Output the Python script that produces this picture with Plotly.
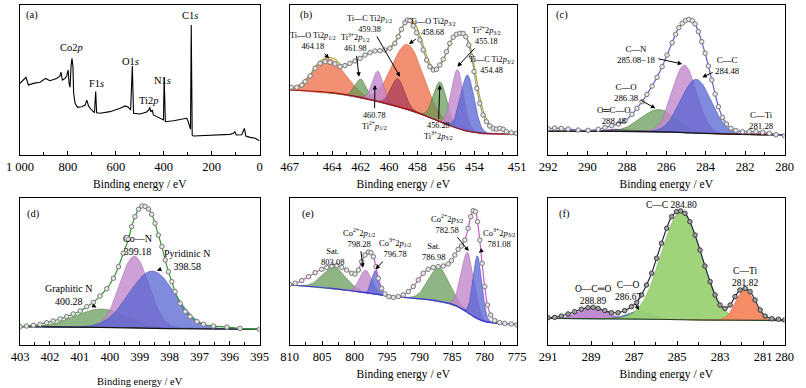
import numpy as np
import plotly.graph_objects as go

SERIF = "Liberation Serif, Times New Roman, serif"

# ======================= DATA =======================
# (a) survey spectrum: binding energy (eV) / intensity (% of panel height)
a_be = [1000, 975, 965, 944, 916, 893, 875, 847, 833, 829, 823, 812, 805, 799, 795, 791, 787, 783, 779, 776,
        770, 760, 742, 728, 721, 714, 701, 689, 684, 680, 666, 624, 582, 561, 547, 538, 531, 526, 499, 471,
        461, 458, 454, 448, 443, 415, 401, 398, 393, 359, 318, 304, 299, 292, 288, 285, 281, 276, 178, 123,
        109, 103, 97, 74, 63, 57, 39, 18, 0]
a_int = [47.6, 51.6, 46.5, 47.6, 48.3, 50.9, 49.4, 50.9, 52.5, 55.1, 49.8, 50.9, 52.5, 56.5, 47.6, 45.0, 58.7, 64.2, 58.7, 41.0,
         34.3, 31.7, 32.1, 33.2, 36.5, 32.6, 29.9, 28.1, 42.1, 28.1, 27.7, 28.8, 31.0, 32.6, 31.7, 29.9, 59.1, 27.7, 27.2, 28.6,
         30.3, 31.7, 28.6, 29.9, 26.6, 24.4, 23.3, 51.6, 22.1, 22.8, 23.7, 24.4, 22.8, 18.8, 17.1, 86.4, 13.3, 12.6, 13.1, 13.7,
         14.4, 15.5, 13.3, 13.5, 17.7, 12.6, 11.7, 11.1, 9.5]
a_ticks = [1000, 800, 600, 400, 200, 0]
a_ticktext = ["1 000", "800", "600", "400", "200", "0"]

# (b) Ti 2p
b_data_be = [466.88, 466.49, 466.13, 465.90, 465.55, 465.20, 464.85, 464.50, 464.15, 463.80, 463.45, 463.10, 462.75,
             462.39, 462.04, 461.69, 461.34, 460.99, 460.64, 460.29, 459.94, 459.59, 459.35, 459.12, 458.88, 458.70,
             458.53, 458.30, 458.06, 457.83, 457.60, 457.36, 457.13, 456.89, 456.66, 456.43, 456.19, 455.96, 455.73,
             455.49, 455.26, 455.02, 454.79, 454.60, 454.39, 454.20, 454.02, 453.83, 453.62, 453.39, 453.15, 452.92,
             452.68, 452.45, 452.22, 451.98, 451.75, 451.40, 451.05]
b_data_int = [45.0, 45.0, 46.5, 48.7, 52.5, 57.6, 60.9, 62.0, 61.6, 60.5, 58.7, 59.4, 60.9,
              62.5, 64.2, 66.4, 68.0, 69.1, 69.3, 69.8, 70.9, 74.2, 78.6, 83.5, 87.9, 89.7,
              89.3, 85.8, 81.3, 76.4, 69.8, 63.1, 58.7, 56.5, 56.9, 59.8, 63.6, 68.7, 74.2,
              78.2, 80.2, 80.8, 80.8, 78.6, 73.1, 65.3, 55.4, 44.3, 34.3, 26.6, 22.1, 19.3,
              17.7, 17.1, 17.7, 17.1, 15.5, 14.8, 14.4]
b_fit_be = [467.0, 466.37, 465.67, 465.2, 464.73, 464.26, 463.8, 463.33, 462.86, 462.16, 461.46, 460.75, 460.05,
            459.58, 459.12, 458.77, 458.53, 458.18, 457.83, 457.48, 457.13, 456.78, 456.43, 455.96, 455.49, 455.02,
            454.67, 454.32, 453.97, 453.62, 453.27, 452.8, 451.87, 451.0]
b_fit_int = [44.7, 45.8, 51.6, 58.7, 63.1, 64.9, 63.6, 59.8, 60.2, 63.6, 67.6, 69.3, 70.9,
             75.3, 84.2, 89.7, 90.4, 87.1, 79.7, 69.8, 60.9, 57.6, 59.1, 67.6, 78.0, 81.3,
             80.4, 73.1, 57.6, 38.8, 26.6, 19.3, 16.2, 14.4]
b_bg_be = [467.0, 464.03, 461.69, 459.35, 458.18, 457.01, 455.84, 454.67, 453.50, 452.33, 451.0]
b_bg_int = [43.2, 41.4, 37.7, 32.1, 28.8, 24.4, 19.9, 16.2, 14.4, 14.0, 13.7]
b_peak_center = [464.18, 458.68, 461.98, 456.40, 460.78, 455.18, 459.38, 454.48]
b_peak_height = [22.1, 43.2, 12.3, 26.5, 20.2, 39.0, 18.5, 37.2]
b_peak_fwhm = [2.7, 2.6, 0.95, 1.1, 0.9, 1.0, 1.1, 1.1]
b_ticks = [467, 464, 462, 460, 458, 456, 454, 451]

# (c) C 1s
c_data_be = [292.0, 291.66, 291.32, 290.98, 290.47, 289.96, 289.45, 289.11, 288.77, 288.43, 288.09, 287.74, 287.49,
             287.23, 286.98, 286.72, 286.47, 286.21, 285.96, 285.70, 285.53, 285.36, 285.19, 285.02, 284.85, 284.68,
             284.54, 284.37, 284.20, 284.03, 283.86, 283.69, 283.52, 283.35, 283.15, 282.94, 282.72, 282.47, 282.13,
             281.79, 281.45, 281.11, 280.77, 280.43, 280.0]
c_data_int = [17.5, 17.9, 17.7, 17.3, 16.6, 16.4, 17.1, 18.2, 19.5, 20.6, 22.8, 27.0, 31.0,
              35.4, 40.3, 45.8, 51.6, 58.7, 66.4, 74.6, 80.2, 84.6, 87.5, 89.3, 90.1, 89.3,
              87.1, 82.0, 75.3, 67.6, 59.1, 49.8, 40.5, 32.1, 25.0, 20.6, 17.7, 16.2, 15.5,
              15.5, 15.5, 15.1, 14.4, 13.5, 12.8]
c_bg_be = [292.0, 287.57, 285.87, 284.51, 283.15, 281.62, 280.0]
c_bg_int = [15.9, 15.7, 15.3, 14.6, 14.0, 13.5, 13.3]
c_peak_center = [288.48, 286.38, 285.08, 284.48, 281.28]
c_peak_height = [1.4, 14.8, 44.8, 35.7, 1.1]
c_peak_fwhm = [1.4, 2.1, 1.45, 1.8, 0.9]
c_ticks = [292, 290, 288, 286, 284, 282, 280]

# (d) N 1s
d_data_be = [403.0, 402.78, 402.55, 402.33, 402.11, 401.89, 401.66, 401.44, 401.22, 400.99, 400.77, 400.55, 400.33,
             400.10, 399.88, 399.71, 399.55, 399.38, 399.27, 399.16, 399.04, 398.93, 398.82, 398.71, 398.60, 398.49,
             398.38, 398.26, 398.15, 398.04, 397.93, 397.82, 397.65, 397.48, 397.32, 397.09, 396.87, 396.54, 396.09,
             395.65, 395.0]
d_data_int = [12.5, 12.9, 13.4, 14.1, 15.2, 16.3, 17.7, 19.3, 21.1, 23.1, 26.1, 29.0, 33.3,
              38.3, 45.4, 53.3, 62.4, 71.9, 80.5, 87.3, 92.3, 94.6, 94.3, 92.5, 88.9, 82.8,
              74.8, 66.9, 57.8, 49.9, 43.1, 36.3, 28.3, 22.7, 19.3, 15.9, 14.1, 12.9, 12.2,
              11.3, 10.7]
d_bg_be = [403.0, 400.33, 399.21, 398.10, 395.0]
d_bg_int = [12.5, 12.0, 11.6, 11.1, 10.7]
d_peak_center = [400.28, 399.18, 398.58]
d_peak_height = [12.5, 48.8, 39.0]
d_peak_fwhm = [2.0, 1.15, 1.8]
d_ticks = [403, 402, 401, 400, 399, 398, 397, 396, 395]

# (e) Co 2p
e_data_be = [810.0, 809.13, 808.11, 807.08, 806.06, 805.04, 804.27, 803.50, 802.73, 801.97, 801.20, 800.43, 799.92,
             799.41, 798.90, 798.38, 797.87, 797.46, 797.10, 796.69, 796.34, 795.82, 795.31, 794.70, 794.03, 793.27,
             792.50, 791.73, 790.96, 790.19, 789.43, 788.66, 787.89, 787.12, 786.36, 785.59, 785.08, 784.57, 784.05,
             783.54, 783.03, 782.52, 782.11, 781.75, 781.39, 781.08, 780.73, 780.37, 779.96, 779.55, 779.04, 778.43,
             777.66, 776.89, 775.87, 775.0]
e_data_int = [41.3, 42.0, 43.8, 46.5, 49.2, 51.5, 52.8, 53.7, 54.0, 52.8, 51.0, 48.8, 48.3,
              51.0, 56.7, 61.2, 63.3, 62.8, 60.1, 53.3, 45.4, 38.5, 34.7, 32.9, 32.4, 32.9,
              34.0, 36.3, 39.7, 44.2, 48.8, 51.5, 52.8, 53.3, 53.7, 55.1, 57.4, 61.2, 65.1,
              67.3, 71.4, 79.4, 87.3, 91.4, 90.7, 83.9, 71.4, 55.6, 39.7, 27.2, 20.4, 16.6,
              15.2, 14.7, 14.3, 13.6]
e_bg_be = [810.0, 803.5, 798.38, 794.8, 790.71, 787.12, 784.57, 783.03, 781.49, 779.96, 777.91, 775.0]
e_bg_int = [40.8, 38.5, 35.6, 33.3, 31.7, 29.9, 27.2, 23.4, 18.8, 15.9, 14.7, 14.1]
e_peak_center = [803.08, 786.98, 798.28, 782.58, 796.78, 781.08]
e_peak_height = [14.5, 22.9, 15.4, 40.9, 16.0, 42.7]
e_peak_fwhm = [4.2, 3.8, 2.2, 2.3, 1.3, 1.6]
e_ticks = [810, 805, 800, 795, 790, 785, 780, 775]

# (f) C 1s
f_data_be = [291.0, 290.69, 290.38, 290.07, 289.76, 289.45, 289.14, 288.90, 288.67, 288.36, 288.05, 287.74, 287.43,
             287.12, 286.88, 286.65, 286.42, 286.18, 285.95, 285.72, 285.48, 285.25, 285.02, 284.83, 284.63, 284.40,
             284.16, 283.93, 283.70, 283.46, 283.23, 283.0, 282.77, 282.53, 282.30, 282.07, 281.83, 281.60, 281.37,
             281.13, 280.90, 280.59, 280.28, 280.0]
f_data_int = [18.6, 18.8, 19.7, 21.1, 22.7, 24.3, 25.4, 25.6, 24.9, 23.4, 22.0, 22.0, 23.4,
              26.1, 28.8, 34.0, 40.8, 48.8, 59.0, 69.2, 79.4, 87.3, 90.7, 91.2, 89.6, 83.9,
              74.8, 64.6, 53.7, 43.1, 34.0, 27.2, 24.9, 27.2, 32.9, 37.4, 38.5, 36.3, 30.6,
              23.8, 19.7, 17.9, 17.5, 17.0]
f_bg_be = [291.0, 286.96, 283.85, 280.0]
f_bg_int = [18.1, 17.7, 17.0, 16.6]
f_peak_center = [288.89, 286.67, 284.80, 281.82]
f_peak_height = [7.6, 5.7, 73.4, 21.4]
f_peak_fwhm = [1.5, 1.4, 2.2, 1.0]
f_ticks = [291, 289, 287, 285, 283, 281, 280]

# ======================= STYLES =======================
W, H = 806, 388
PAL = {
    "orange": ("rgba(240,125,90,0.85)", "rgb(215,95,60)"),
    "green": ("rgba(95,150,80,0.70)", "rgb(80,130,70)"),
    "pink": ("rgba(195,135,205,0.80)", "rgb(170,110,185)"),
    "maroon": ("rgba(165,55,90,0.70)", "rgb(140,40,75)"),
    "blue": ("rgba(85,100,210,0.75)", "rgb(70,80,190)"),
    "violet": ("rgba(105,40,140,0.90)", "rgb(90,30,120)"),
    "red": ("rgba(235,60,40,0.90)", "rgb(210,40,30)"),
    "lgreen": ("rgba(155,210,115,0.95)", "rgb(120,180,90)"),
    "steel": ("rgba(80,115,175,0.85)", "rgb(60,95,155)"),
    "lilac": ("rgba(185,125,205,0.90)", "rgb(160,100,185)"),
    "forange": ("rgba(245,135,95,0.95)", "rgb(220,100,70)"),
}

panels = [
    dict(key="a", dom=((20, 259.5), (4.5, 155)), rng=(1000, 0), ticks=a_ticks, ticktext=a_ticktext,
         minor=np.arange(0, 1001, 100), stand=6),
    dict(key="b", dom=((289.5, 517), (4.5, 155)), rng=(467, 451), ticks=b_ticks, minor=np.arange(451, 468, 1),
         data=(b_data_be, b_data_int), fit=(b_fit_be, b_fit_int), bg=(b_bg_be, b_bg_int),
         peaks=(b_peak_center, b_peak_height, b_peak_fwhm),
         colors=["orange", "orange", "green", "green", "pink", "pink", "maroon", "blue"],
         bgcolor="rgb(160,20,20)", fitcolor="rgb(175,170,55)", mk="rgb(120,120,120)",
         mfill="rgb(230,230,230)", stand=6),
    dict(key="c", dom=((548, 784.5), (4.5, 155)), rng=(292, 280), ticks=c_ticks, minor=np.arange(280, 293, 1),
         data=(c_data_be, c_data_int), bg=(c_bg_be, c_bg_int),
         peaks=(c_peak_center, c_peak_height, c_peak_fwhm),
         colors=["violet", "green", "pink", "blue", "red"],
         bgcolor="rgb(20,20,20)", fitcolor="rgb(95,95,205)", mk="rgb(120,120,120)",
         mfill="rgb(230,230,230)", stand=6),
    dict(key="d", dom=((20, 259.5), (198, 345)), rng=(403, 395), ticks=d_ticks, minor=np.arange(395, 403.01, 0.5),
         data=(d_data_be, d_data_int), bg=(d_bg_be, d_bg_int),
         peaks=(d_peak_center, d_peak_height, d_peak_fwhm),
         colors=["green", "pink", "blue"],
         bgcolor="rgb(20,20,20)", fitcolor="rgb(50,150,50)", mk="rgb(120,120,120)",
         mfill="rgb(230,230,230)", stand=14),
    dict(key="e", dom=((289.5, 517), (198, 345)), rng=(810, 775), ticks=e_ticks, minor=np.arange(775, 811, 2.5),
         data=(e_data_be, e_data_int), bg=(e_bg_be, e_bg_int),
         peaks=(e_peak_center, e_peak_height, e_peak_fwhm),
         colors=["green", "green", "pink", "pink", "blue", "blue"],
         bgcolor="rgb(60,60,210)", fitcolor="rgb(205,90,205)", mk="rgb(120,120,120)",
         mfill="rgb(230,230,230)", stand=6),
    dict(key="f", dom=((548, 784.5), (198, 345)), rng=(291, 280), ticks=f_ticks, minor=np.arange(280, 292, 1),
         data=(f_data_be, f_data_int), bg=(f_bg_be, f_bg_int),
         peaks=(f_peak_center, f_peak_height, f_peak_fwhm),
         colors=["lilac", "steel", "lgreen", "forange"],
         bgcolor="rgb(40,70,40)", fitcolor="rgb(40,40,70)", mk="rgb(60,60,60)",
         mfill="rgb(160,160,160)", stand=6),
]

fig = go.Figure()
layout = dict(template="none", width=W, height=H, margin=dict(l=0, r=0, t=0, b=0, pad=0),
              paper_bgcolor="white", plot_bgcolor="white", showlegend=False,
              font=dict(family=SERIF, color="black"))
annotations = []


def interp_bg(x, bx, by):
    order = np.argsort(bx)
    return np.interp(x, np.asarray(bx)[order], np.asarray(by)[order])


for i, p in enumerate(panels):
    n = "" if i == 0 else str(i + 1)
    xa, ya = "x" + n, "y" + n
    (l, r), (t, b) = p["dom"]
    layout["xaxis" + n] = dict(
        domain=[l / W, r / W], range=list(p["rng"]), anchor=ya, automargin=False,
        showline=True, mirror=True, linecolor="black", linewidth=1,
        showgrid=False, zeroline=False,
        tickmode="array", tickvals=p["ticks"], ticktext=p.get("ticktext", [str(v) for v in p["ticks"]]),
        ticks="inside", ticklen=4, tickcolor="black", tickwidth=1,
        minor=dict(tickvals=list(p["minor"]), ticks="inside", ticklen=3, tickcolor="black", showgrid=False),
        tickfont=dict(family=SERIF, size=12.5, color="black"),
        title=dict(text="Binding energy / eV", font=dict(family=SERIF, size=11.5 if p["key"] != "d" else 10.5),
                   standoff=p["stand"]),
    )
    layout["yaxis" + n] = dict(
        domain=[1 - b / H, 1 - t / H], range=[0, 100], anchor=xa, automargin=False,
        showline=True, mirror=True, linecolor="black", linewidth=1,
        showgrid=False, zeroline=False, showticklabels=False, ticks="",
    )
    if p["key"] == "a":
        fig.add_trace(go.Scatter(x=a_be, y=a_int, mode="lines", line=dict(color="black", width=1.1),
                                 xaxis=xa, yaxis=ya, hoverinfo="skip"))
        continue
    lo, hi = min(p["rng"]), max(p["rng"])
    bx, by = p["bg"]
    cen, hgt, fw = p["peaks"]
    for c, h, w, col in zip(cen, hgt, fw, p["colors"]):
        xs = np.linspace(max(lo, c - 2.6 * w), min(hi, c + 2.6 * w), 240)
        base = interp_bg(xs, bx, by)
        top = base + h * np.exp(-4 * np.log(2) * ((xs - c) / w) ** 2)
        fill, edge = PAL[col]
        fig.add_trace(go.Scatter(x=np.concatenate([xs, xs[::-1]]), y=np.concatenate([top, base[::-1]]),
                                 mode="lines", fill="toself", fillcolor=fill, line=dict(color=edge, width=0.6),
                                 xaxis=xa, yaxis=ya, hoverinfo="skip"))
    fig.add_trace(go.Scatter(x=bx, y=by, mode="lines", line=dict(color=p["bgcolor"], width=1.2, shape="spline"),
                             xaxis=xa, yaxis=ya, hoverinfo="skip"))
    dx, dy = p["data"]
    if "fit" in p:
        fx, fy = p["fit"]
        fig.add_trace(go.Scatter(x=fx, y=fy, mode="lines", line=dict(color=p["fitcolor"], width=1.2, shape="spline"),
                                 xaxis=xa, yaxis=ya, hoverinfo="skip"))
        linecol = "rgb(150,150,150)"
    else:
        linecol = p["fitcolor"]
    fig.add_trace(go.Scatter(x=dx, y=dy, mode="lines+markers",
                             line=dict(color=linecol, width=1.2, shape="spline"),
                             marker=dict(symbol="circle", size=4.5, color=p["mfill"],
                                         line=dict(color=p["mk"], width=1)),
                             xaxis=xa, yaxis=ya, hoverinfo="skip"))


# ======================= LABELS =======================
def txt(n, x, y, s, size, head=None):
    ann = dict(xref="x" + n, yref="y" + n, text=s,
               font=dict(family=SERIF, size=size, color="black"), align="center")
    if head is None:
        ann.update(x=x, y=y, showarrow=False)
    else:
        ann.update(x=head[0], y=head[1], ax=x, ay=y, axref="x" + n, ayref="y" + n, showarrow=True,
                   arrowhead=2, arrowsize=0.9, arrowwidth=1, arrowcolor="black", standoff=0, startstandoff=1)
    annotations.append(ann)


P = "<i>p</i>"
# (a)
txt("", 948, 93.0, "(a)", 10.5)
txt("", 784, 71.5, "Co2" + P, 10.5)
txt("", 681, 47.6, "F1<i>s</i>", 10.5)
txt("", 538, 62.0, "O1<i>s</i>", 10.5)
txt("", 462, 36.5, "Ti2" + P, 10.5)
txt("", 407, 49.4, "N1<i>s</i>", 10.5)
txt("", 290, 92.6, "C1<i>s</i>", 10.5)
# (b)
fb = 8.2
txt("2", 465.78, 93.0, "(b)", 10.5)
txt("2", 465.32, 75.5, "Ti—O Ti2" + P + "<sub>1/2</sub><br>464.18", fb, head=(464.22, 64.0))
txt("2", 462.39, 74.5, "Ti<sup>3+</sup>2" + P + "<sub>1/2</sub><br>461.98", fb, head=(462.11, 52.0))
txt("2", 461.35, 87.0, "Ti—C Ti2" + P + "<sub>1/2</sub><br>459.38", fb, head=(459.23, 52.0))
txt("2", 456.90, 85.0, "Ti—O Ti2" + P + "<sub>3/2</sub><br>458.68", fb, head=(458.60, 73.8))
txt("2", 453.15, 79.3, "Ti<sup>2+</sup>2" + P + "<sub>3/2</sub><br>455.18", fb, head=(455.19, 58.7))
txt("2", 452.80, 59.6, "Ti—C Ti2" + P + "<sub>3/2</sub><br>454.48", fb, head=(454.16, 53.8))
txt("2", 461.03, 22.8, "460.78<br>Ti<sup>2+</sup>" + P + "<sub>1/2</sub>", fb, head=(460.99, 46.5))
txt("2", 456.54, 15.7, "456.28<br>Ti<sup>3+</sup>2" + P + "<sub>3/2</sub>", fb, head=(456.43, 46.5))
# (c)
fc = 8.8
txt("3", 291.29, 93.0, "(c)", 10.5)
txt("3", 287.52, 67.1, "C—N<br>285.08−18", fc, head=(285.19, 60.5))
txt("3", 282.89, 59.6, "C—C<br>284.48", fc, head=(284.17, 51.6))
txt("3", 288.03, 41.8, "C—O<br>286.38", fc, head=(286.55, 31.0))
txt("3", 288.63, 26.2, "O═C—O<br>288.48", fc)
txt("3", 281.19, 22.6, "C—Ti<br>281.28", fc)
# (d)
fd = 10
txt("4", 402.54, 89.1, "(d)", 10.5)
txt("4", 399.06, 68.3, "Co—N<br>399.18", fd)
txt("4", 397.43, 57.6, "Pyridinic N<br>398.58", fd, head=(398.43, 50.6))
txt("4", 401.38, 34.2, "Graphitic N<br>400.28", fd, head=(400.44, 25.6))
# (e)
fe = 8.5
txt("5", 807.13, 89.1, "(e)", 10.5)
txt("5", 803.35, 60.5, "Sat.<br>803.08", fe)
txt("5", 799.25, 73.0, "Co<sup>2+</sup>2" + P + "<sub>1/2</sub><br>798.28", fe, head=(798.7, 52.5))
txt("5", 793.78, 65.8, "Co<sup>3+</sup>2" + P + "<sub>1/2</sub><br>796.78", fe, head=(796.75, 51.5))
txt("5", 787.89, 63.9, "Sat.<br>786.98", fe)
txt("5", 785.84, 82.3, "Co<sup>2+</sup>2" + P + "<sub>3/2</sub><br>782.58", fe, head=(782.42, 63.9))
txt("5", 777.76, 72.8, "Co<sup>3+</sup>2" + P + "<sub>3/2</sub><br>781.08", fe, head=(780.88, 62.8))
# (f)
ff = 9.5
txt("6", 290.22, 89.1, "(f)", 10.5)
txt("6", 285.25, 95.2, "C—C 284.80", ff)
txt("6", 281.86, 46.5, "C—Ti<br>281.82", ff)
txt("6", 288.93, 34.0, "O—C═O<br>288.89", ff)
txt("6", 287.30, 36.7, "C—O<br>286.67", ff, head=(286.77, 23.8))

layout["annotations"] = annotations
fig.update_layout(**layout)
fig.write_html("out.html", config={"displayModeBar": False},
               post_script="document.body.style.margin='0px';document.body.style.overflow='hidden';")
